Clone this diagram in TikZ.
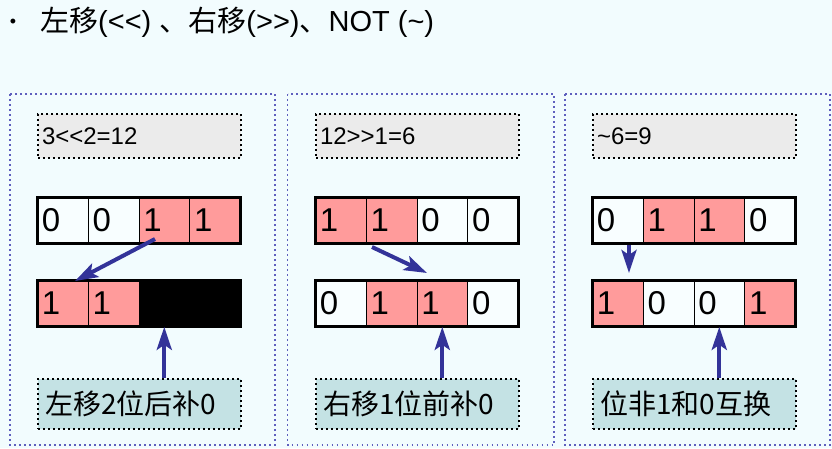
\documentclass[tikz,border=0pt]{standalone}
\usepackage{fontspec}
\setmainfont{Liberation Sans}[Ligatures=TeXOff]
\newfontfamily\cjk{Noto Sans CJK SC}
\usetikzlibrary{arrows.meta}
\definecolor{bgcyan}{RGB}{242,252,254}
\definecolor{bitpink}{RGB}{255,155,155}
\definecolor{bitwhite}{RGB}{248,254,255}
\definecolor{eqgray}{RGB}{235,235,235}
\definecolor{labteal}{RGB}{196,226,228}
\definecolor{arrowblue}{RGB}{51,51,153}
\definecolor{panelblue}{RGB}{95,95,190}
\tikzset{
  panel/.style={draw=panelblue, line width=1.8pt, dash pattern=on 1.8pt off 3.2pt},
  eqbox/.style={draw=black, fill=eqgray, line width=2pt, dash pattern=on 2pt off 3pt,
    minimum height=44pt, text width=195pt, inner xsep=4pt, inner ysep=0pt, align=left,
    anchor=north west, font=\fontsize{24}{26}\selectfont},
  labbox/.style={eqbox, fill=labteal, minimum height=50pt, inner xsep=7pt, text width=189pt,
    font=\cjk\fontsize{28}{30}\selectfont},
  bit/.style={draw=black, line width=0.8pt, minimum height=46pt, text width=41.75pt,
    inner xsep=4.5pt, inner ysep=0pt, align=left, anchor=north west,
    font=\fontsize{33}{35}\selectfont},
  b0/.style={bit, fill=bitwhite},
  b1/.style={bit, fill=bitpink},
  bx/.style={bit, fill=black},
  rahmen/.style={draw=black, line width=3pt},
  schieb/.style={->, draw=arrowblue, line width=4pt},
}
\begin{document}
\begin{tikzpicture}[x=1pt, y=-1pt, >={Stealth[length=23pt, width=15pt, inset=5pt]}]
  %Hintergrund
  \fill[bgcyan] (0,0) rectangle (832,448);
  %Ueberschrift
  \node[font=\fontsize{18}{18}\selectfont] (punkt) at (13,23) {•};
  \node[anchor=west, inner sep=0pt, font=\fontsize{29}{31}\selectfont] (titel) at (40,22)
    {{\cjk 左移}(<<) {\cjk 、右移}(>>){\cjk 、}NOT (\char`\~)};
  %Rahmen der drei Felder
  \draw[panel] (10,94) rectangle (275,445);
  \draw[panel] (287.5,94) rectangle (554,445);
  \draw[panel] (565,94) rectangle (830,445);
  %Gleichungen
  \node[eqbox] (eq1) at (37,113) {3<<2=12};
  \node[eqbox] (eq2) at (315,113) {12>>1=6};
  \node[eqbox] (eq3) at (592,113) {\char`\~6=9};
  %Bits oben
  \foreach \s/\t [count=\i] in {b0/0,b0/0,b1/1,b1/1}
    \node[\s] (o1c\i) at ({37+(\i-1)*50.75},197) {\t};
  \foreach \s/\t [count=\i] in {b1/1,b1/1,b0/0,b0/0}
    \node[\s] (o2c\i) at ({315+(\i-1)*50.75},197) {\t};
  \foreach \s/\t [count=\i] in {b0/0,b1/1,b1/1,b0/0}
    \node[\s] (o3c\i) at ({592+(\i-1)*50.75},197) {\t};
  %Bits unten
  \foreach \s/\t [count=\i] in {b1/1,b1/1,bx/{},bx/{}}
    \node[\s] (u1c\i) at ({37+(\i-1)*50.75},280) {\t};
  \foreach \s/\t [count=\i] in {b0/0,b1/1,b1/1,b0/0}
    \node[\s] (u2c\i) at ({315+(\i-1)*50.75},280) {\t};
  \foreach \s/\t [count=\i] in {b1/1,b0/0,b0/0,b1/1}
    \node[\s] (u3c\i) at ({592+(\i-1)*50.75},280) {\t};
  %dicke Rahmen
  \foreach \r in {o1,o2,o3,u1,u2,u3}
    \draw[rahmen] (\r c1.north west) rectangle (\r c4.south east);
  %Erklaerungen
  \node[labbox] (lab1) at (37,378) {左移2位后补0};
  \node[labbox] (lab2) at (315,378) {右移1位前补0};
  \node[labbox] (lab3) at (592,378) {位非1和0互换};
  %Pfeile
  \coordinate (s1) at (155,239);
  \coordinate (e1) at (75,281);
  \coordinate (s2) at (372,247);
  \coordinate (e2) at (427,273);
  \coordinate (s3) at (629,245);
  \coordinate (e3) at (629,273);
  \draw[schieb] (s1) -- (e1);
  \draw[schieb] (s2) -- (e2);
  \draw[schieb] (s3) -- (e3);
  \foreach \k in {1,2,3}
    \draw[schieb] (lab\k.north -| u\k c3) -- (u\k c3.south);
\end{tikzpicture}
\end{document}
